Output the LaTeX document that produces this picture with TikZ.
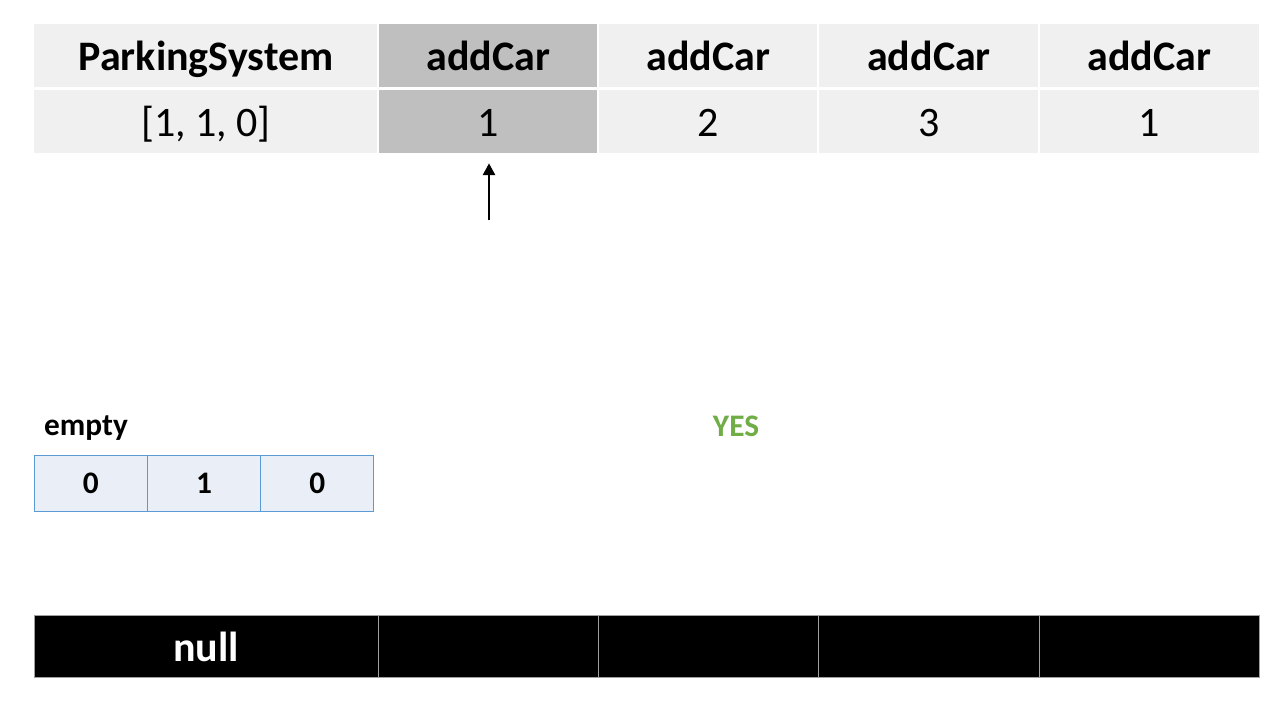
\documentclass[tikz,border=0pt]{standalone}
\usepackage{fontspec}
\setmainfont{Carlito}
\usetikzlibrary{arrows.meta}
\definecolor{lightcell}{HTML}{F0F0F0}
\definecolor{darkcell}{HTML}{BFBFBF}
\definecolor{bluefill}{HTML}{E9EEF7}
\definecolor{blueline}{HTML}{5B9BD5}
\definecolor{yesgreen}{HTML}{70AD47}
\definecolor{nullsep}{HTML}{A0A0A0}
\tikzset{
  bigfont/.style={font=\fontsize{31.5}{36}\selectfont},
  bigbold/.style={font=\fontsize{31.5}{36}\selectfont\bfseries},
  smallfont/.style={font=\fontsize{23.5}{28}\selectfont\bfseries},
  topcell/.style={rectangle,inner sep=0pt,fill=lightcell,draw=white,line width=1.5pt,minimum height=64.5*0.75pt,text height=23.5pt,text depth=0.5pt,bigfont},
  hicell/.style={topcell,fill=darkcell},
  nullcell/.style={rectangle,inner sep=0pt,fill=black,draw=nullsep,line width=0.6pt,minimum height=62*0.75pt,text height=23.5pt,text depth=0.5pt,text=white,bigfont},
  emptycell/.style={rectangle,inner sep=0pt,fill=bluefill,draw=blueline,line width=0.75pt,minimum width=113.3*0.75pt,minimum height=56*0.75pt,smallfont},
  pointer/.style={line width=2.2pt,-{Triangle[length=9pt,width=9pt]}}
}
\begin{document}
\begin{tikzpicture}[x=0.75pt,y=-0.75pt]
\useasboundingbox[fill=white] (0,0) rectangle (1280,720);
% top row: methods
\node[topcell,minimum width=346*0.75pt,bigbold] (m1) at (206,55.5) {ParkingSystem};
\node[hicell,minimum width=222*0.75pt,bigbold] (m2) at (488.5,55.5) {addCar};
\node[topcell,minimum width=222*0.75pt,bigbold] (m3) at (708.5,55.5) {addCar};
\node[topcell,minimum width=223*0.75pt,bigbold] (m4) at (929,55.5) {addCar};
\node[topcell,minimum width=221.5*0.75pt,bigbold] (m5) at (1149.5,55.5) {addCar};
% second row: arguments
\node[topcell,minimum width=346*0.75pt] (a1) at (206,121.5) {[1, 1, 0]};
\node[hicell,minimum width=222*0.75pt] (a2) at (488.5,121.5) {1};
\node[topcell,minimum width=222*0.75pt] (a3) at (708.5,121.5) {2};
\node[topcell,minimum width=223*0.75pt] (a4) at (929,121.5) {3};
\node[topcell,minimum width=221.5*0.75pt] (a5) at (1149.5,121.5) {1};
% pointer
\coordinate (ptail) at (489,220.5);
\draw[pointer,shorten >=8.5*0.75pt] (ptail) -- (a2.south -| ptail);
% empty array
\node[smallfont] (emptylbl) at (86,428) {empty};
\node[emptycell] (e1) at (90.7,483) {0};
\node[emptycell] (e2) at (204,483) {1};
\node[emptycell] (e3) at (317.3,483) {0};
% result
\node[smallfont,text=yesgreen] (yes) at (736,426) {YES};
% output row
\node[nullcell,minimum width=344.5*0.75pt,bigbold] (o1) at (206.25,646) {null};
\node[nullcell,minimum width=220*0.75pt] (o2) at (488.5,646) {};
\node[nullcell,minimum width=220*0.75pt] (o3) at (708.5,646) {};
\node[nullcell,minimum width=221*0.75pt] (o4) at (929,646) {};
\node[nullcell,minimum width=219.5*0.75pt] (o5) at (1149.25,646) {};
\end{tikzpicture}
\end{document}
